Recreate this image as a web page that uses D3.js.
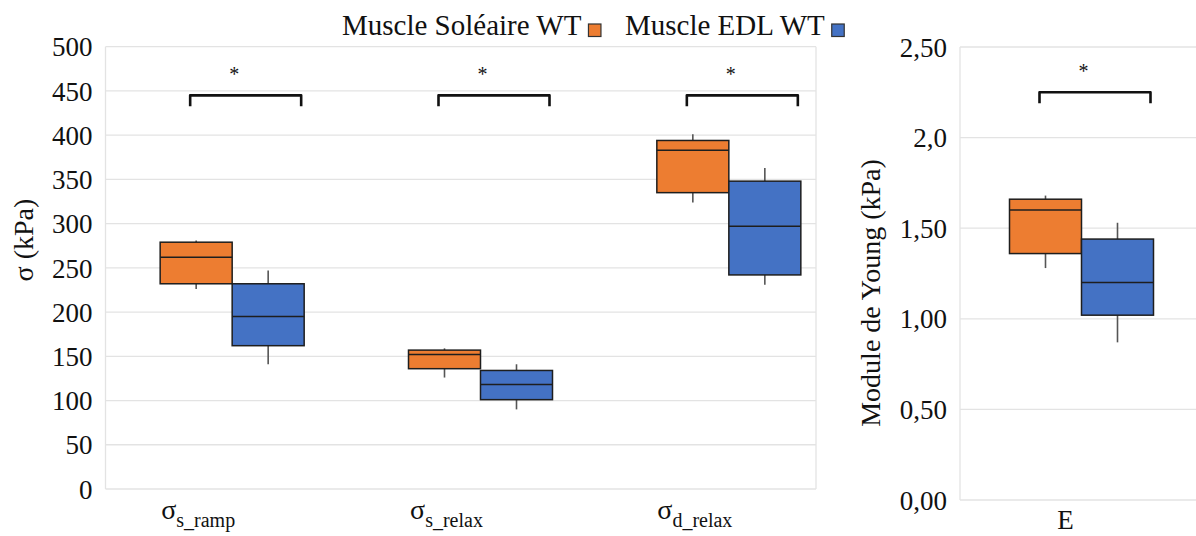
<!DOCTYPE html>
<html>
<head>
<meta charset="utf-8">
<script src="https://cdn.jsdelivr.net/npm/d3@7"></script>
<style>
  html, body { margin: 0; padding: 0; background: #fff; }
  svg { display: block; }
  text { font-family: "Liberation Serif", "Times New Roman", serif; fill: #111; }
</style>
</head>
<body>
<svg id="chart" width="1196" height="536"></svg>
<script>
// ---- data ----
const series = ["Muscle Soléaire WT", "Muscle EDL WT"];
const seriesColors = ["#ED7D31", "#4472C4"];

const stressCategories = ["s_ramp", "s_relax", "d_relax"];   // subscripts of σ
// five-number summaries: [whisker low, Q1, median, Q3, whisker high] (kPa)
const soleaireStress = [[226, 232, 262, 279, 281], [126, 136, 152, 157, 159], [324, 335, 383, 394, 401]];
const edlStress      = [[141, 162, 195, 232, 247], [ 90, 101, 118, 134, 141], [231, 242, 297, 348, 363]];
const stressTicks = [0, 50, 100, 150, 200, 250, 300, 350, 400, 450, 500];
const stressSig = [445, 445, 445];

const youngCategories = ["E"];
const soleaireYoung = [[1.28, 1.36, 1.60, 1.66, 1.68]];
const edlYoung      = [[0.87, 1.02, 1.20, 1.44, 1.53]];
const youngTicks = [0, 0.5, 1, 1.5, 2, 2.5];
const youngTickLabels = ["0,00", "0,50", "1,00", "1,50", "2,0", "2,50"];
const youngSig = [2.25];

// ---- drawing ----
const svg = d3.select("#chart");
const gridColor = "#e3e3e3";

function panel(opts) {
  const { left, right, top, bottom, boxRange, yMax, ticks, tickFmt,
          cats, values, sig, title, titleX, titleY, labelFn } = opts;
  const g = svg.append("g");
  const y = d3.scaleLinear().domain([0, yMax]).range([bottom, top]);
  const x = d3.scaleBand().domain(cats).range(boxRange);
  const xs = d3.scaleBand().domain(series).range([-72, 72]);

  // gridlines + frame
  g.selectAll("line.grid").data(ticks).join("line")
    .attr("x1", left).attr("x2", right)
    .attr("y1", d => y(d)).attr("y2", d => y(d))
    .attr("stroke", gridColor).attr("stroke-width", 1.3);
  g.append("line").attr("x1", left).attr("x2", left).attr("y1", top).attr("y2", bottom)
    .attr("stroke", gridColor).attr("stroke-width", 1.3);
  g.append("line").attr("x1", right).attr("x2", right).attr("y1", top).attr("y2", bottom)
    .attr("stroke", gridColor).attr("stroke-width", 1.3);

  // y axis labels
  const yAxis = d3.axisLeft(y).tickValues(ticks).tickFormat(tickFmt).tickSize(0).tickPadding(0);
  const ax = g.append("g").attr("transform", `translate(${left - 13},0)`).call(yAxis);
  ax.select(".domain").remove();
  ax.selectAll("text").style("font-family", '"Liberation Serif", serif')
    .style("font-size", "27px").attr("fill", "#111").attr("dy", "0.34em");

  // axis title
  g.append("text")
    .attr("transform", `translate(${titleX},${titleY}) rotate(-90)`)
    .attr("text-anchor", "middle").style("font-size", "28px").text(title);

  // boxes
  cats.forEach((c, ci) => {
    const cx = x(c) + x.bandwidth() / 2;
    series.forEach((s, si) => {
      const [lo, q1, med, q3, hi] = values[si][ci];
      const bx = cx + xs(s);
      const w = xs.bandwidth();
      const mid = bx + w / 2;
      const bg = g.append("g");
      bg.append("line").attr("x1", mid).attr("x2", mid).attr("y1", y(hi)).attr("y2", y(q3))
        .attr("stroke", "#555").attr("stroke-width", 1.6);
      bg.append("line").attr("x1", mid).attr("x2", mid).attr("y1", y(q1)).attr("y2", y(lo))
        .attr("stroke", "#555").attr("stroke-width", 1.6);
      bg.append("rect").attr("x", bx).attr("y", y(q3))
        .attr("width", w).attr("height", y(q1) - y(q3))
        .attr("fill", seriesColors[si]).attr("stroke", "#1e1e1e").attr("stroke-width", 1.5);
      bg.append("line").attr("x1", bx).attr("x2", bx + w).attr("y1", y(med)).attr("y2", y(med))
        .attr("stroke", "#1e1e1e").attr("stroke-width", 1.5);
    });

    // significance bracket
    const ys = y(sig[ci]);
    const x0 = cx - 42, x1 = cx + 69;
    g.append("path")
      .attr("d", `M${x0},${ys + 11}V${ys}H${x1}V${ys + 11}`)
      .attr("fill", "none").attr("stroke", "#111").attr("stroke-width", 2.6)
      .attr("stroke-linejoin", "round");
    g.append("text").attr("x", cx + 2).attr("y", ys - 14)
      .attr("text-anchor", "middle").style("font-size", "20px").attr("fill", "#333").text("*");

    // category label
    labelFn(g, c, cx);
  });
}

panel({
  left: 105.5, right: 816, top: 46.7, bottom: 489,
  boxRange: [108, 853], yMax: 500, ticks: stressTicks, tickFmt: d => d,
  cats: stressCategories, values: [soleaireStress, edlStress], sig: stressSig,
  title: "σ (kPa)", titleX: 33, titleY: 240,
  labelFn: (g, c, cx) => {
    const t = g.append("text").attr("x", cx - 34).attr("y", 519).attr("text-anchor", "middle");
    t.append("tspan").style("font-size", "28px").text("σ");
    t.append("tspan").style("font-size", "20px").attr("dy", 8).text(c);
  }
});

panel({
  left: 960, right: 1210, top: 47, bottom: 500,
  boxRange: [960, 1203], yMax: 2.5, ticks: youngTicks,
  tickFmt: (d, i) => youngTickLabels[i],
  cats: youngCategories, values: [soleaireYoung, edlYoung], sig: youngSig,
  title: "Module de Young (kPa)", titleX: 880, titleY: 293,
  labelFn: (g, c, cx) => {
    g.append("text").attr("x", cx - 16).attr("y", 529).attr("text-anchor", "middle")
      .style("font-size", "27px").text(c);
  }
});

// legend
const legendX = [342, 625];
const legend = svg.append("g");
series.forEach((s, i) => {
  const t = legend.append("text").attr("x", legendX[i]).attr("y", 35)
    .style("font-size", "29px").text(s);
  const w = t.node().getComputedTextLength();
  legend.append("rect").attr("x", legendX[i] + w + 7).attr("y", 24)
    .attr("width", 12.5).attr("height", 12.5)
    .attr("fill", seriesColors[i]).attr("stroke", "#333").attr("stroke-width", 1.2);
});
</script>
</body>
</html>
